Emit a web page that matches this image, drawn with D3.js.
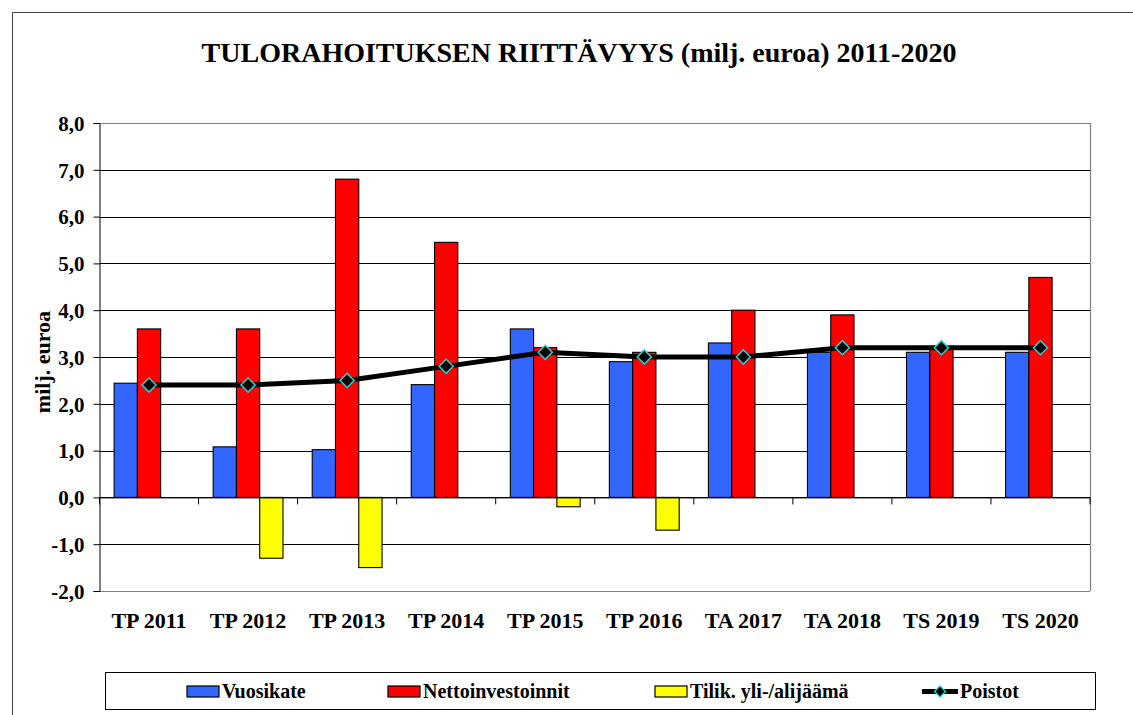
<!DOCTYPE html>
<html>
<head>
<meta charset="utf-8">
<script src="https://cdn.jsdelivr.net/npm/d3@7"></script>
<style>
  html, body { margin: 0; padding: 0; background: #fff; }
  svg { display: block; }
</style>
</head>
<body>
<svg id="chart" width="1133" height="715"></svg>
<script>
// ---- data ----
const categories = ["TP 2011", "TP 2012", "TP 2013", "TP 2014", "TP 2015", "TP 2016", "TA 2017", "TA 2018", "TS 2019", "TS 2020"];
const vuosikate = [2.44, 1.08, 1.02, 2.41, 3.6, 2.9, 3.3, 3.1, 3.1, 3.1];
const nettoinvestoinnit = [3.6, 3.6, 6.8, 5.45, 3.2, 3.1, 4.0, 3.9, 3.2, 4.7];
const tilikYliAlijaama = [null, -1.3, -1.5, null, -0.2, -0.7, null, null, null, null];
const poistot = [2.4, 2.4, 2.5, 2.8, 3.1, 3.0, 3.0, 3.2, 3.2, 3.2];
const yTicks = [-2, -1, 0, 1, 2, 3, 4, 5, 6, 7, 8];
const seriesNames = ["Vuosikate", "Nettoinvestoinnit", "Tilik. yli-/alijäämä"];
const seriesColors = ["#3366FF", "#FF0000", "#FFFF00"];
const lineName = "Poistot";
const titleText = "TULORAHOITUKSEN RIITTÄVYYS (milj. euroa) 2011-2020";
const yTitle = "milj. euroa";

const FONT = "'Times New Roman', 'Liberation Serif', serif";
function txt(sel, size) {
  return sel.attr("font-family", FONT).style("font-family", FONT)
    .attr("font-weight", "700").style("font-weight", "700")
    .style("font-size", size + "px").attr("fill", "#000");
}

// ---- layout ----
const svg = d3.select("#chart");
const L = 99.5, R = 1090, T = 123, B = 591;

// outer frame
svg.append("path").attr("d", "M12.5,715 L12.5,12.5 L1133,12.5")
  .attr("fill", "none").attr("stroke", "#444").attr("stroke-width", 1);

const x = d3.scaleBand().domain(categories).range([L, R]).paddingInner(0).paddingOuter(0);
const cw = x.bandwidth();
const bw = cw * 0.235;
const x1 = d3.scaleBand().domain(seriesNames).range([(cw - 3 * bw) / 2, (cw + 3 * bw) / 2]);
const y = d3.scaleLinear().domain([-2, 8]).range([B, T]);

// gridlines
svg.append("g").selectAll("line").data(yTicks).join("line")
  .attr("x1", L).attr("x2", R)
  .attr("y1", d => Math.round(y(d)) + 0.5).attr("y2", d => Math.round(y(d)) + 0.5)
  .attr("stroke", d => (d === 8 || d === -2) ? "#808080" : "#000").attr("stroke-width", 1);

// right border of plot area
svg.append("line").attr("x1", R + 0.5).attr("x2", R + 0.5).attr("y1", T).attr("y2", B)
  .attr("stroke", "#808080").attr("stroke-width", 1.2);

// title
txt(svg.append("text").attr("transform", "translate(579,62) rotate(0.01)").attr("text-anchor", "middle"), 28).text(titleText);

// y axis
const yAxis = d3.axisLeft(y).tickValues(yTicks).tickSize(6).tickPadding(9)
  .tickFormat(d => d3.format(".1f")(d).replace("−", "-").replace(".", ","));
const gy = svg.append("g").attr("transform", `translate(${L},0)`).call(yAxis);
gy.attr("font-family", FONT);
gy.select(".domain").attr("stroke", "#000");
gy.selectAll(".tick line").attr("stroke", "#000");
txt(gy.selectAll(".tick text"), 21).attr("dy", "0.35em");

// y title
txt(svg.append("text").attr("transform", "translate(50,362) rotate(-90)")
  .attr("text-anchor", "middle"), 22).text(yTitle);

// bars
const seriesData = [vuosikate, nettoinvestoinnit, tilikYliAlijaama];
seriesData.forEach((vals, si) => {
  svg.append("g").selectAll("rect")
    .data(vals.map((v, i) => ({ c: categories[i], v })).filter(d => d.v !== null))
    .join("rect")
    .attr("x", d => x(d.c) + x1(seriesNames[si]))
    .attr("width", x1.bandwidth())
    .attr("y", d => y(Math.max(0, d.v)))
    .attr("height", d => Math.abs(y(d.v) - y(0)))
    .attr("fill", seriesColors[si])
    .attr("stroke", "#000").attr("stroke-width", 1.1);
});

// x axis at zero
const xAxis = d3.axisBottom(x).tickSize(0).tickFormat("");
const gx = svg.append("g").attr("transform", `translate(0,${y(0)})`).call(xAxis);
gx.select(".domain").attr("stroke", "#000");
// category boundary ticks
svg.append("g").selectAll("line").data(categories.concat(["__end"])).join("line")
  .attr("x1", (d, i) => L + i * cw).attr("x2", (d, i) => L + i * cw)
  .attr("y1", y(0)).attr("y2", y(0) + 7)
  .attr("stroke", "#000").attr("stroke-width", 1);

// x labels
txt(svg.append("g").selectAll("text").data(categories).join("text")
  .attr("x", d => x(d) + cw / 2).attr("y", 628)
  .attr("text-anchor", "middle"), 22).text(d => d);

// poistot line
const line = d3.line().x((d, i) => x(categories[i]) + cw / 2).y(d => y(d));
svg.append("path").datum(poistot).attr("d", line)
  .attr("fill", "none").attr("stroke", "#000").attr("stroke-width", 5)
  .attr("stroke-linejoin", "round");
svg.append("g").selectAll("path").data(poistot).join("path")
  .attr("d", d3.symbol().type(d3.symbolSquare).size(100))
  .attr("transform", (d, i) => `translate(${x(categories[i]) + cw / 2},${y(d)}) rotate(45)`)
  .attr("fill", "#000").attr("stroke", "#22D3D3").attr("stroke-width", 1.5);

// legend
const lg = svg.append("g");
lg.append("rect").attr("x", 105.5).attr("y", 672.5).attr("width", 990).attr("height", 37)
  .attr("fill", "#fff").attr("stroke", "#000").attr("stroke-width", 1);
const legendX = [187, 388, 655];
seriesNames.forEach((n, i) => {
  lg.append("rect").attr("x", legendX[i]).attr("y", 686).attr("width", 32).attr("height", 11)
    .attr("fill", seriesColors[i]).attr("stroke", "#000").attr("stroke-width", 1.2);
  txt(lg.append("text").attr("x", legendX[i] + 35).attr("y", 698), 20).text(n);
});
lg.append("line").attr("x1", 922).attr("x2", 958).attr("y1", 691.5).attr("y2", 691.5)
  .attr("stroke", "#000").attr("stroke-width", 5);
lg.append("path").attr("d", d3.symbol().type(d3.symbolSquare).size(60))
  .attr("transform", "translate(940,691.5) rotate(45)")
  .attr("fill", "#000").attr("stroke", "#22D3D3").attr("stroke-width", 1.3);
txt(lg.append("text").attr("x", 960).attr("y", 698), 20).text(lineName);
</script>
</body>
</html>
